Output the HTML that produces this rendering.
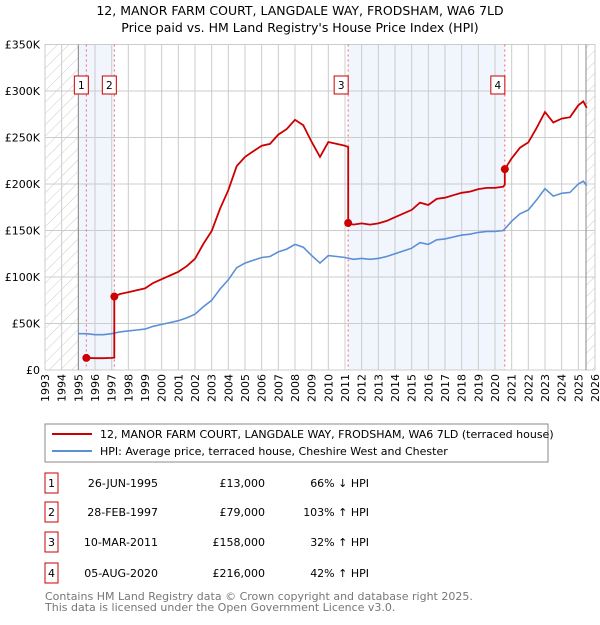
<!DOCTYPE html>
<html><head><meta charset="utf-8"><style>
body{margin:0;background:#fff;font-family:"Liberation Sans","DejaVu Sans",sans-serif}
svg text{font-family:"DejaVu Sans","Liberation Sans",sans-serif}
</style></head><body>
<svg id="c" width="600" height="620" viewBox="0 0 600 620">
<defs><pattern id="hatch" width="8" height="8" patternUnits="userSpaceOnUse" patternTransform="rotate(45)"><line x1="0" y1="0" x2="0" y2="8" stroke="#ccc" stroke-width="1"/></pattern></defs>
<text x="300" y="15" text-anchor="middle" font-size="12.5">12, MANOR FARM COURT, LANGDALE WAY, FRODSHAM, WA6 7LD</text>
<text x="300" y="32" text-anchor="middle" font-size="12.5">Price paid vs. HM Land Registry's House Price Index (HPI)</text>
<g id="plot"></g>
<rect x="45" y="424" width="503" height="38" fill="#fff" stroke="#888"/>
<line x1="52" y1="434" x2="92" y2="434" stroke="#cc0000" stroke-width="2"/>
<text x="100" y="438" font-size="11">12, MANOR FARM COURT, LANGDALE WAY, FRODSHAM, WA6 7LD (terraced house)</text>
<line x1="52" y1="451" x2="92" y2="451" stroke="#5b8fd6" stroke-width="2"/>
<text x="100" y="455" font-size="11">HPI: Average price, terraced house, Cheshire West and Chester</text>
<g id="table" font-size="11"></g>
<text x="45" y="600" font-size="11" fill="#777">Contains HM Land Registry data © Crown copyright and database right 2025.</text>
<text x="45" y="611" font-size="11" fill="#777">This data is licensed under the Open Government Licence v3.0.</text>
</svg>
<script>
const hpiYears=[1995,1995.5,1996,1996.5,1997,1997.5,1998,1998.5,1999,1999.5,2000,2000.5,2001,2001.5,2002,2002.5,2003,2003.5,2004,2004.5,2005,2005.5,2006,2006.5,2007,2007.5,2008,2008.5,2009,2009.5,2010,2010.5,2011,2011.5,2012,2012.5,2013,2013.5,2014,2014.5,2015,2015.5,2016,2016.5,2017,2017.5,2018,2018.5,2019,2019.5,2020,2020.5,2021,2021.5,2022,2022.5,2023,2023.5,2024,2024.5,2025,2025.3,2025.5];
const hpiValues=[39,39,38,38,39,41,42,43,44,47,49,51,53,56,60,68,75,87,97,110,115,118,121,122,127,130,135,132,123,115,123,122,121,119,120,119,120,122,125,128,131,137,135,140,141,143,145,146,148,149,149,150,160,168,172,183,195,187,190,191,200,203,198];
const saleYears=[1995.48,1997.16,2011.19,2020.59];
const salePrices=[13,79,158,216];
const saleDates=["26-JUN-1995","28-FEB-1997","10-MAR-2011","05-AUG-2020"];
const salePriceLabels=["£13,000","£79,000","£158,000","£216,000"];
const saleHpiLabels=["66% ↓ HPI","103% ↑ HPI","32% ↑ HPI","42% ↑ HPI"];
const yTicks=[0,50,100,150,200,250,300,350];
const yTickLabels=["£0","£50K","£100K","£150K","£200K","£250K","£300K","£350K"];

const NS="http://www.w3.org/2000/svg";
const X0=45,X1=595,Y0=370,Y1=44.5,Y_MIN=1993,Y_MAX=2026,V_MAX=350;
const x=t=>X0+(t-Y_MIN)/(Y_MAX-Y_MIN)*(X1-X0);
const y=v=>Y0-v/V_MAX*(Y0-Y1);
function mk(tag,attrs,parent){const e=document.createElementNS(NS,tag);for(const k in attrs)e.setAttribute(k,attrs[k]);parent.appendChild(e);return e;}
function hpiAt(t){for(let i=0;i<hpiYears.length-1;i++){if(t>=hpiYears[i]&&t<=hpiYears[i+1]){const f=(t-hpiYears[i])/(hpiYears[i+1]-hpiYears[i]);return hpiValues[i]+f*(hpiValues[i+1]-hpiValues[i]);}}return hpiValues[hpiValues.length-1];}
const g=document.getElementById('plot');
// shaded ownership bands
let b=mk('rect',{x:x(1995),y:Y1,width:x(saleYears[1])-x(1995),height:Y0-Y1,fill:'#eef3fc',opacity:0.8},g);


b=mk('rect',{x:x(saleYears[2]),y:Y1,width:x(saleYears[3])-x(saleYears[2]),height:Y0-Y1,fill:'#eef3fc',opacity:0.8},g);


// hatch
let h=mk('rect',{x:X0,y:Y1,width:x(1995)-X0,height:Y0-Y1,fill:'url(#hatch)'},g);


h=mk('rect',{x:x(2025.46),y:Y1,width:X1-x(2025.46),height:Y0-Y1,fill:'url(#hatch)'},g);


// grid
for(let t=Y_MIN;t<=Y_MAX;t++){
  const l=mk('line',{x1:x(t),x2:x(t),y1:Y1,y2:Y0,stroke:'#ccc','stroke-width':1},g);
  
  
  const tx=mk('text',{x:0,y:0,'font-size':11,'text-anchor':'end',transform:`translate(${x(t)+4},374) rotate(-90)`},g);
  
  
  tx.textContent=t;
}
yTicks.forEach((v,i)=>{
  const l=mk('line',{x1:X0,x2:X1,y1:y(v),y2:y(v),stroke:'#ccc','stroke-width':1},g);
  
  
  const tx=mk('text',{x:40,y:y(v)+4,'font-size':11,'text-anchor':'end'},g);
  
  
  tx.textContent=yTickLabels[i];
});
let a=mk('line',{x1:x(1995),x2:x(1995),y1:Y1,y2:Y0,stroke:'#888'},g);


a=mk('line',{x1:x(2025.46),x2:x(2025.46),y1:Y1,y2:Y0,stroke:'#888'},g);


// sale vlines and labels
saleYears.forEach((t,i)=>{
  const l=mk('line',{x1:x(t),x2:x(t),y1:Y1,y2:Y0,stroke:'#e66','stroke-dasharray':'2,3','stroke-width':1},g);
  
  
  const bx=x(t)-(i%2==0?21:-3)*0+((i==0||i==2)?-14:-14);
  const r=mk('rect',{x:x(t)-([7,7,7,7][i])-(i===0?0:0)-0,y:76,width:14,height:18,fill:'#fff',stroke:'#c00'},g);
  r.setAttribute('x',[x(t)-14, x(t)-14, x(t)-10, x(t)-10][i]-(i<2?-2:4));
  
  
  const tx=mk('text',{x:+r.getAttribute('x')+7,y:89,'font-size':10.5,'text-anchor':'middle'},g);
  
  
  tx.textContent=i+1;
});
// hpi line
const hp=hpiYears.map((t,i)=>`${i?'L':'M'}${x(t).toFixed(1)},${y(hpiValues[i]).toFixed(1)}`).join('');
const hl=mk('path',{d:hp,fill:'none',stroke:'#5b8fd6','stroke-width':1.6},g);


// property line: HPI scaled from each sale
let d='';
for(let s=0;s<saleYears.length;s++){
  const ratio=salePrices[s]/hpiAt(saleYears[s]);
  const end=s<saleYears.length-1?saleYears[s+1]:hpiYears[hpiYears.length-1];
  const pts=[saleYears[s]].concat(hpiYears.filter(t=>t>saleYears[s]&&t<end)).concat([end]);
  pts.forEach((t,j)=>{d+=`${(s===0&&j===0)?'M':'L'}${x(t).toFixed(1)},${y(hpiAt(t)*ratio).toFixed(1)}`;});
}
const pl=mk('path',{d:d,fill:'none',stroke:'#cc0000','stroke-width':1.8},g);


saleYears.forEach((t,i)=>{
  const c=mk('circle',{cx:x(t),cy:y(salePrices[i]),r:4,fill:'#cc0000'},g);
  
  
});
// table
const tb=document.getElementById('table');
const rowsY=[484,513,543,574];
saleDates.forEach((dt,i)=>{
  const r=mk('rect',{x:45,y:rowsY[i]-11,width:13,height:20,fill:'#fff',stroke:'#c00'},tb);
  
  
  const n=mk('text',{x:51.5,y:rowsY[i]+3,'text-anchor':'middle'},tb);
  
  
  n.textContent=i+1;
  const cols=[[158,dt,'table-date'],[265,salePriceLabels[i],'table-price'],[369,saleHpiLabels[i],'table-hpi-diff']];
  cols.forEach(cc=>{
    const t=mk('text',{x:cc[0],y:rowsY[i]+3,'text-anchor':'end'},tb);
    
    
    t.textContent=cc[1];
  });
});
</script>
</body></html>
